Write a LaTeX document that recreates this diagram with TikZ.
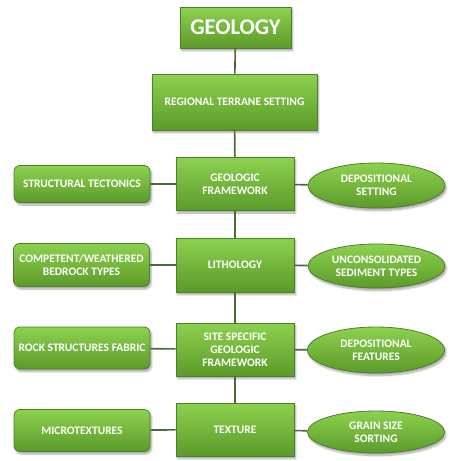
\documentclass[tikz,border=0pt]{standalone}
\usepackage{fontspec}
\setmainfont{Carlito}
\usetikzlibrary{shapes.geometric,shadows.blur}
\definecolor{gtop}{HTML}{8ED14F}
\definecolor{gbot}{HTML}{5B9A2A}
\definecolor{gedge}{HTML}{4C7F28}
\definecolor{gline}{HTML}{4A6A36}
\tikzset{
  base/.style={draw=gedge, line width=0.8pt, top color=gtop, bottom color=gbot,
    text=white, font=\bfseries\fontsize{11.5}{13}\selectfont, align=center,
    inner sep=0pt,
    blur shadow={shadow xshift=1.5pt, shadow yshift=-2.5pt, shadow blur steps=6, shadow opacity=35}},
  mainbox/.style={base, rectangle, minimum width=118pt, minimum height=53pt},
  sidebox/.style={base, rectangle, rounded corners=6pt, minimum width=136pt, minimum height=41pt},
  oval/.style={base, ellipse, minimum width=137pt, minimum height=45pt},
  link/.style={draw=gline, line width=1.6pt}
}
\begin{document}
\begin{tikzpicture}[x=1pt,y=-1pt]
\useasboundingbox (0,0) rectangle (452,461);
% central column
\node[base, rectangle, minimum width=111pt, minimum height=41pt,
      font=\bfseries\fontsize{22.5}{24}\selectfont] (geo) at (235.5,27.5) {GEOLOGY};
\node[mainbox, minimum width=165pt, minimum height=56pt] (reg) at (234.5,102) {REGIONAL TERRANE SETTING};
\node[mainbox] (fw) at (235,184) {GEOLOGIC\\FRAMEWORK};
\node[mainbox, minimum height=54pt] (lith) at (235,265) {LITHOLOGY};
\node[mainbox] (ssf) at (235,349.5) {SITE SPECIFIC\\GEOLOGIC\\FRAMEWORK};
\node[mainbox] (tex) at (235,429.5) {TEXTURE};
% left column
\node[sidebox, minimum height=37pt] (st) at (82,184) {STRUCTURAL TECTONICS};
\node[sidebox, minimum height=43pt] (cw) at (81.5,265) {COMPETENT/WEATHERED\\BEDROCK TYPES};
\node[sidebox, minimum height=42pt] (rsf) at (82,348) {ROCK STRUCTURES FABRIC};
\node[sidebox, minimum height=42pt] (mt) at (82,430.5) {MICROTEXTURES};
% right column
\node[oval] (ds) at (376.5,185.5) {DEPOSITIONAL\\SETTING};
\node[oval, minimum height=44pt] (us) at (376.5,266) {UNCONSOLIDATED\\SEDIMENT TYPES};
\node[oval, minimum height=46pt] (df) at (376,350) {DEPOSITIONAL\\FEATURES};
\node[oval, minimum height=42pt] (gs) at (376,432) {GRAIN SIZE\\SORTING};
% connectors
\draw[link] (geo) -- (reg);
\draw[link] (reg) -- (fw);
\draw[link] (fw) -- (lith);
\draw[link] (lith) -- (ssf);
\draw[link] (ssf) -- (tex);
\draw[link] (fw) -- (st);
\draw[link] (fw) -- (ds);
\draw[link] (lith) -- (cw);
\draw[link] (lith) -- (us);
\draw[link] (ssf) -- (rsf);
\draw[link] (ssf) -- (df);
\draw[link] (tex) -- (mt);
\draw[link] (tex) -- (gs);
\end{tikzpicture}
\end{document}
